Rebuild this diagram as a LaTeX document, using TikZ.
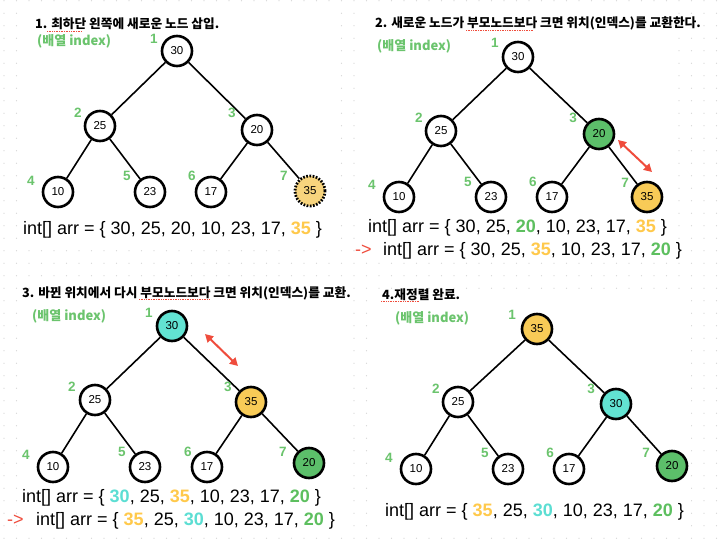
\documentclass[tikz,border=0pt]{standalone}
\usepackage{fontspec}
\setmainfont{Liberation Sans}
\newfontfamily\kr{Noto Sans CJK KR}
\usetikzlibrary{arrows.meta}
\definecolor{idxgreen}{HTML}{6BC46D}
\definecolor{fillyellow}{HTML}{F8CB57}
\definecolor{fillpale}{HTML}{F7D47D}
\definecolor{fillgreen}{HTML}{5CBF6A}
\definecolor{fillcyan}{HTML}{62E3D2}
\definecolor{txtyellow}{HTML}{FFC94B}
\definecolor{txtgreen}{HTML}{5DBF5F}
\definecolor{txtcyan}{HTML}{5CDED3}
\definecolor{swapred}{HTML}{EF4C3C}
\definecolor{griddot}{HTML}{D4D4D4}
\tikzset{
  hnode/.style={circle,draw=black,line width=2.6pt,fill=white,minimum size=30pt,inner sep=0pt,font=\fontsize{11.5}{12}\selectfont},
  dotnode/.style={hnode,fill=fillpale,dash pattern=on 1.7pt off 1.5pt,line width=2.8pt},
  hedge/.style={line width=1.6pt,draw=black},
  idx/.style={text=idxgreen,font=\fontsize{13.5}{14}\selectfont\bfseries,inner sep=0pt},
  ttl/.style={anchor=west,inner sep=0pt,font=\kr\bfseries\fontsize{12.7}{14}\selectfont},
  idxttl/.style={anchor=west,inner sep=0pt,text=idxgreen,font=\kr\bfseries\fontsize{13}{14}\selectfont},
  arr/.style={anchor=west,inner sep=0pt,font=\fontsize{18}{20}\selectfont},
  swap/.style={draw=swapred,line width=2pt,{Triangle[length=8pt,width=8.5pt]}-{Triangle[length=8pt,width=8.5pt]}},
  spell/.style={draw=swapred,line width=0.7pt,dash pattern=on 0.8pt off 0.9pt},
  panel/.style={fill=white,draw=none}
}
\newcommand{\Y}[1]{\textcolor{txtyellow}{\bfseries #1}}
\newcommand{\G}[1]{\textcolor{txtgreen}{\bfseries #1}}
\newcommand{\C}[1]{\textcolor{txtcyan}{\bfseries #1}}
\begin{document}
\begin{tikzpicture}[x=1pt,y=-1pt]
\useasboundingbox (0,0) rectangle (721,544);
\fill[white] (0,0) rectangle (721,544);
% dotted canvas grid
\foreach \i in {0,...,57}{\foreach \j in {0,...,43}{
  \fill[griddot] ({4+12.5*\i},{0.7+12.5*\j}) circle (0.6pt);}}
% white panels
\fill[panel] (18,10) rectangle (338,246);
\fill[panel] (360,10) rectangle (677,262);
\fill[panel] (18,300) rectangle (346,534);
\fill[panel] (378,300) rectangle (691,534);

% ---------------- Panel 1 ----------------
\node[ttl] (t1) at (35,24) {1. 최하단 왼쪽에 새로운 노드 삽입.};
\node[idxttl] (i1) at (37,41) {(배열 index)};
\node[hnode] (a1) at (177,51) {30};
\node[hnode] (a2) at (100,126) {25};
\node[hnode] (a3) at (257,130) {20};
\node[hnode] (a4) at (58,192) {10};
\node[hnode] (a5) at (150,192) {23};
\node[hnode] (a6) at (211,192) {17};
\node[dotnode] (a7) at (310,191) {35};
\draw[hedge] (a1)--(a2) (a1)--(a3) (a2)--(a4) (a2)--(a5) (a3)--(a6) (a3)--(a7);
\node[idx] (al1) at (154,39) {1};
\node[idx] (al2) at (78,113) {2};
\node[idx] (al3) at (232,113) {3};
\node[idx] (al4) at (31,181) {4};
\node[idx] (al5) at (127,176) {5};
\node[idx] (al6) at (192,176) {6};
\node[idx] (al7) at (284,176) {7};
\node[arr] (r1) at (23,230) {int[] arr = \{ 30, 25, 20, 10, 23, 17, \Y{35} \}};
\coordinate (s1a) at (47,31); \coordinate (s1b) at (82,31);
\draw[spell] (s1a)--(s1b);

% ---------------- Panel 2 ----------------
\node[ttl] (t2) at (375,23) {2. 새로운 노드가 부모노드보다 크면 위치(인덱스)를 교환한다.};
\node[idxttl] (i2) at (377,46) {(배열 index)};
\node[hnode] (b1) at (518,57) {30};
\node[hnode] (b2) at (441,131) {25};
\node[hnode,fill=fillgreen] (b3) at (599,134) {20};
\node[hnode] (b4) at (399,197) {10};
\node[hnode] (b5) at (491,197) {23};
\node[hnode] (b6) at (552,197) {17};
\node[hnode,fill=fillyellow] (b7) at (647,197) {35};
\draw[hedge] (b1)--(b2) (b1)--(b3) (b2)--(b4) (b2)--(b5) (b3)--(b6) (b3)--(b7);
\node[idx] (bl1) at (495,43) {1};
\node[idx] (bl2) at (419,118) {2};
\node[idx] (bl3) at (573,118) {3};
\node[idx] (bl4) at (372,185) {4};
\node[idx] (bl5) at (468,182) {5};
\node[idx] (bl6) at (533,182) {6};
\node[idx] (bl7) at (625,183) {7};
\coordinate (w2a) at (618,140); \coordinate (w2b) at (652,172);
\draw[swap] (w2a)--(w2b);
\node[arr] (r2) at (368,228) {int[] arr = \{ 30, 25, \G{20}, 10, 23, 17, \Y{35} \}};
\node[arr,text=swapred] (p2) at (355,250) {->};
\node[arr] (q2) at (383,251) {int[] arr = \{ 30, 25, \Y{35}, 10, 23, 17, \G{20} \}};
\coordinate (s2a) at (466,30); \coordinate (s2b) at (533,30);
\draw[spell] (s2a)--(s2b);

% ---------------- Panel 3 ----------------
\node[ttl] (t3) at (22,293) {3. 바뀐 위치에서 다시 부모노드보다 크면 위치(인덱스)를 교환.};
\node[idxttl] (i3) at (32,316) {(배열 index)};
\node[hnode,fill=fillcyan] (c1) at (172,326) {30};
\node[hnode] (c2) at (95,400) {25};
\node[hnode,fill=fillyellow] (c3) at (251,402) {35};
\node[hnode] (c4) at (53,467) {10};
\node[hnode] (c5) at (145,467) {23};
\node[hnode] (c6) at (207,467) {17};
\node[hnode,fill=fillgreen] (c7) at (309,463) {20};
\draw[hedge] (c1)--(c2) (c1)--(c3) (c2)--(c4) (c2)--(c5) (c3)--(c6) (c3)--(c7);
\node[idx] (cl1) at (149,313) {1};
\node[idx] (cl2) at (72,387) {2};
\node[idx] (cl3) at (228,387) {3};
\node[idx] (cl4) at (26,455) {4};
\node[idx] (cl5) at (122,452) {5};
\node[idx] (cl6) at (188,452) {6};
\node[idx] (cl7) at (283,452) {7};
\coordinate (w3a) at (205,334); \coordinate (w3b) at (238,366);
\draw[swap] (w3a)--(w3b);
\node[arr] (r3) at (22,498) {int[] arr = \{ \C{30}, 25, \Y{35}, 10, 23, 17, \G{20} \}};
\node[arr,text=swapred] (p3) at (7,520) {->};
\node[arr] (q3) at (36,521) {int[] arr = \{ \Y{35}, 25, \C{30}, 10, 23, 17, \G{20} \}};
\coordinate (s3a) at (139,299); \coordinate (s3b) at (210,299);
\draw[spell] (s3a)--(s3b);

% ---------------- Panel 4 ----------------
\node[ttl] (t4) at (382,295) {4.재정렬 완료.};
\node[idxttl] (i4) at (395,318) {(배열 index)};
\node[hnode,fill=fillyellow] (d1) at (537,329) {35};
\node[hnode] (d2) at (458,402) {25};
\node[hnode,fill=fillcyan] (d3) at (616,404) {30};
\node[hnode] (d4) at (416,469) {10};
\node[hnode] (d5) at (508,469) {23};
\node[hnode] (d6) at (569,469) {17};
\node[hnode,fill=fillgreen] (d7) at (672,466) {20};
\draw[hedge] (d1)--(d2) (d1)--(d3) (d2)--(d4) (d2)--(d5) (d3)--(d6) (d3)--(d7);
\node[idx] (dl1) at (512,315) {1};
\node[idx] (dl2) at (436,389) {2};
\node[idx] (dl3) at (591,389) {3};
\node[idx] (dl4) at (389,458) {4};
\node[idx] (dl5) at (485,453) {5};
\node[idx] (dl6) at (550,453) {6};
\node[idx] (dl7) at (646,453) {7};
\node[arr] (r4) at (385,512) {int[] arr = \{ \Y{35}, 25, \C{30}, 10, 23, 17, \G{20} \}};
\coordinate (s4a) at (381,301); \coordinate (s4b) at (420,301);
\draw[spell] (s4a)--(s4b);
\end{tikzpicture}
\end{document}
